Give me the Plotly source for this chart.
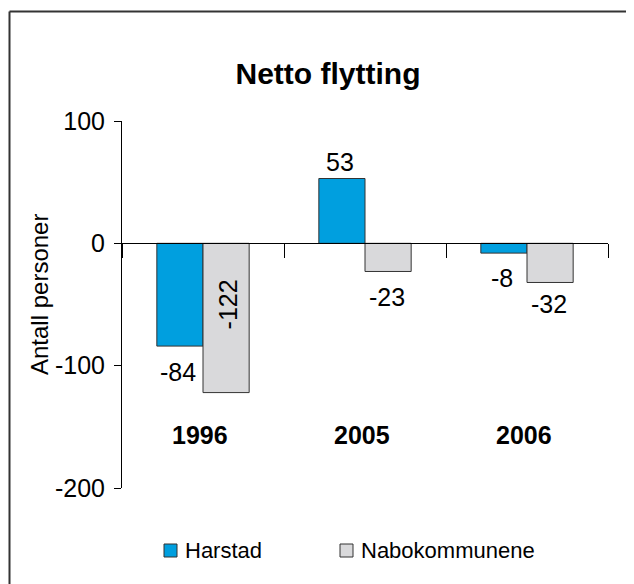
import plotly.graph_objects as go

# ---- data ----
categories = ["1996", "2005", "2006"]
harstad = [-84, 53, -8]
nabokommunene = [-122, -23, -32]
series_names = ["Harstad", "Nabokommunene"]
y_ticks = [-200, -100, 0, 100]

# ---- style ----
W, H = 634, 584
OFF = 8  # page body margin of the browser
ML, MT = 114, 113
PW, PH = 486, 367
MR, MB = W - ML - PW, H - MT - PH
FONT = "Liberation Sans, Arial, Helvetica, sans-serif"
BLUE = "#009fdf"
GREY = "#d9d9db"
EDGE = "#333333"
BARGAP = 0.43


def px_x(px):
    """screen pixel x -> paper fraction"""
    return (px - OFF - ML) / PW


def px_y(py):
    """screen pixel y -> paper fraction"""
    return (H - MB - (py - OFF)) / PH


fig = go.Figure()
fig.add_bar(x=categories, y=harstad, name=series_names[0], showlegend=False,
            marker=dict(color=BLUE, line=dict(color=EDGE, width=1)))
fig.add_bar(x=categories, y=nabokommunene, name=series_names[1], showlegend=False,
            marker=dict(color=GREY, line=dict(color=EDGE, width=1)))

# bar centre offset (category units)
half = (1 - BARGAP) / 4
offs = [-half, half]

annotations = []
label_font = dict(family=FONT, size=25, color="black")
h_shift = [-26, 17, -25]
for i, v in enumerate(harstad):
    annotations.append(dict(x=i + offs[0], y=v, xref="x", yref="y", text=str(v),
                            showarrow=False, xshift=-2, yshift=h_shift[i],
                            xanchor="center", yanchor="middle", font=label_font))
n_shift = [None, -26, -22]
for i, v in enumerate(nabokommunene):
    if i == 0:
        annotations.append(dict(x=i + offs[1], y=0, xref="x", yref="y", text=str(v),
                                showarrow=False, xshift=2, yshift=-61,
                                xanchor="center", yanchor="middle",
                                textangle=-90, font=label_font))
    else:
        annotations.append(dict(x=i + offs[1], y=v, xref="x", yref="y", text=str(v),
                                showarrow=False, xshift=-1, yshift=n_shift[i],
                                xanchor="center", yanchor="middle", font=label_font))
# category labels inside the plot
for i, c in enumerate(categories):
    annotations.append(dict(x=i, y=-157, xref="x", yref="y", text="<b>%s</b>" % c,
                            showarrow=False, xshift=-3, xanchor="center",
                            yanchor="middle",
                            font=dict(family=FONT, size=25, color="black")))
# y axis title
annotations.append(dict(x=px_x(39), y=px_y(295), xref="paper", yref="paper",
                        xanchor="center", yanchor="middle",
                        text="Antall personer", textangle=-90, showarrow=False,
                        font=dict(family=FONT, size=24, color="black")))

shapes = [
    dict(type="line", xref="paper", yref="paper", x0=px_x(9.5), x1=px_x(700),
         y0=px_y(11.5), y1=px_y(11.5), line=dict(color=EDGE, width=2)),
    dict(type="line", xref="paper", yref="paper", x0=px_x(9.5), x1=px_x(9.5),
         y0=px_y(11.5), y1=px_y(700), line=dict(color=EDGE, width=2)),
]

# legend (drawn by hand so that the swatch/text spacing matches)
legend_x = [164, 340]
legend_colors = [BLUE, GREY]
for name, lx, col in zip(series_names, legend_x, legend_colors):
    shapes.append(dict(type="rect", xref="paper", yref="paper",
                       x0=px_x(lx), x1=px_x(lx + 13), y0=px_y(557), y1=px_y(544),
                       fillcolor=col, line=dict(color=EDGE, width=1)))
    annotations.append(dict(x=px_x(lx + 19), y=px_y(550.5), xref="paper", yref="paper",
                            xanchor="left", yanchor="middle", text=name,
                            showarrow=False,
                            font=dict(family=FONT, size=22, color="black")))

fig.update_layout(
    width=W, height=H,
    margin=dict(l=ML, r=MR, t=MT, b=MB),
    paper_bgcolor="white", plot_bgcolor="white",
    barmode="group", bargap=BARGAP, bargroupgap=0,
    font=dict(family=FONT, color="black"),
    title=dict(text="<b>Netto flytting</b>", x=(328 - OFF) / W, xanchor="center",
               y=1 - (73 - OFF) / H, yanchor="middle",
               font=dict(family=FONT, size=30, color="black")),
    showlegend=False,
    annotations=annotations,
    shapes=shapes,
)
fig.update_xaxes(type="category", range=[-0.5, len(categories) - 0.5],
                 anchor="free", position=2 / 3, showline=True, linecolor="black",
                 linewidth=1, ticks="outside", tickson="boundaries", ticklen=14,
                 tickcolor="black", tickwidth=1, showticklabels=False,
                 showgrid=False, zeroline=False)
fig.update_yaxes(range=[-200, 100], tickvals=y_ticks,
                 ticktext=[str(v) for v in y_ticks], showline=True,
                 linecolor="black", linewidth=1, ticks="outside", ticklen=7,
                 ticklabelstandoff=4,
                 tickcolor="black", tickwidth=1, showgrid=False, zeroline=False,
                 tickfont=dict(family=FONT, size=25, color="black"))

fig.write_html("out.html")
